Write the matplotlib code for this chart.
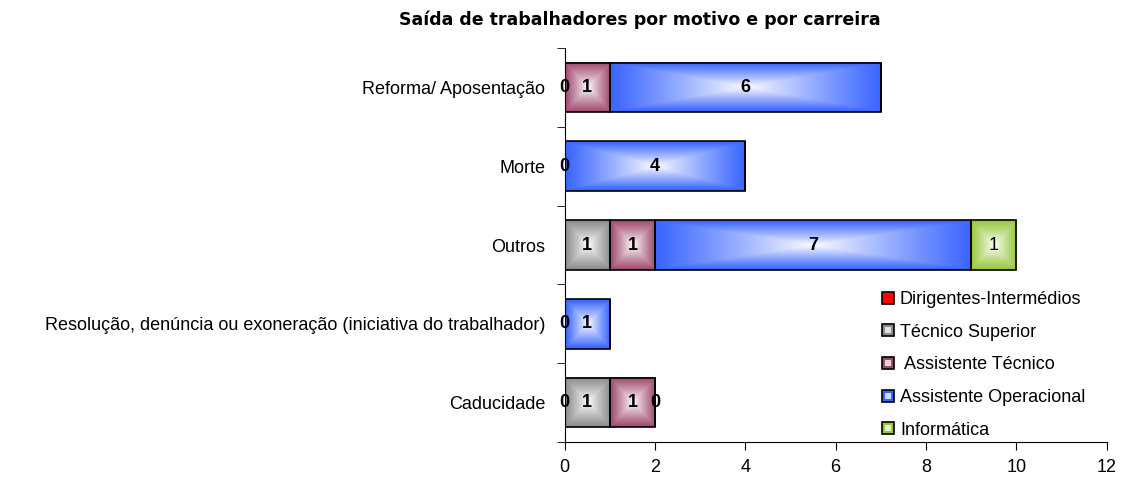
import numpy as np
import matplotlib
matplotlib.use("Agg")
import matplotlib.pyplot as plt
from matplotlib.colors import to_rgb
from matplotlib.patches import Rectangle
from matplotlib.legend_handler import HandlerBase

plt.rcParams["font.family"] = ["Liberation Sans", "DejaVu Sans"]

categories = [
    "Reforma/ Aposentação",
    "Morte",
    "Outros",
    "Resolução, denúncia ou exoneração (iniciativa do trabalhador)",
    "Caducidade",
]
series = ["Dirigentes-Intermédios", "Técnico Superior", " Assistente Técnico",
          "Assistente Operacional", "Informática"]
# None = no value in that cell (no label drawn)
dirigentes = [None, None, None, None, 0]
tec_superior = [0, None, 1, None, 1]
assist_tecnico = [1, 0, 1, 0, 1]
assist_operacional = [6, 4, 7, 1, 0]
informatica = [None, None, 1, None, None]
values = [dirigentes, tec_superior, assist_tecnico, assist_operacional, informatica]
colors = ["#FF0000", "#8C8C8C", "#A04A6E", "#3864FF", "#96C83C"]
bold_labels = [True, True, True, True, False]


def gradient_img(color, nx, ny, power=0.9):
    u = np.abs(np.linspace(-1, 1, nx))[None, :]
    v = np.abs(np.linspace(-1, 1, ny))[:, None]
    t = np.maximum(u, v) ** power
    c = np.array(to_rgb(color))
    img = 1.0 - (1.0 - c)[None, None, :] * t[:, :, None]
    return img


fig = plt.figure(figsize=(11.27, 4.8), dpi=100)
ax = fig.add_axes([0.501, 0.079, 0.481, 0.821])

ypos = np.arange(len(categories))
bar_h = 0.63
left = np.zeros(len(categories))
for vals, col, bold in zip(values, colors, bold_labels):
    w = np.array([0 if v is None else v for v in vals], dtype=float)
    bars = ax.barh(ypos, w, left=left, height=bar_h, facecolor="none",
                   edgecolor="black", linewidth=1.2, zorder=3)
    for b, v in zip(bars, vals):
        if v is None:
            continue
        x0, y0 = b.get_x(), b.get_y()
        bw, bh = b.get_width(), b.get_height()
        if bw > 0:
            img = gradient_img(col, max(int(bw * 40), 20), 30)
            ax.imshow(img, extent=(x0, x0 + bw, y0, y0 + bh), aspect="auto",
                      interpolation="bilinear", zorder=2)
        ax.text(x0 + bw / 2, y0 + bh / 2, str(v), ha="center", va="center",
                fontsize=13, fontweight="bold" if bold else "normal", zorder=4)
    left += w

ax.set_xlim(0, 12)
ax.set_ylim(len(categories) - 0.5, -0.5)
ax.set_xticks(range(0, 13, 2))
ax.set_yticks(ypos)
ax.set_yticklabels(categories)
ax.set_yticks(np.arange(-0.5, len(categories), 1), minor=True)
ax.tick_params(axis="y", which="major", length=0, pad=14, labelsize=13)
ax.tick_params(axis="y", which="minor", length=6, direction="out")
ax.tick_params(axis="x", length=6, direction="out", labelsize=13, pad=6)
ax.spines["top"].set_visible(False)
ax.spines["right"].set_visible(False)

fig.text(0.568, 0.958, "Saída de trabalhadores por motivo e por carreira",
         ha="center", va="center", fontsize=12.5, fontweight="bold",
         family="DejaVu Sans")


class GradHandler(HandlerBase):
    def __init__(self, color, solid=False):
        super().__init__()
        self.color = color
        self.solid = solid

    def create_artists(self, legend, orig_handle, xdescent, ydescent, width,
                       height, fontsize, trans):
        s = height * 1.0
        x = xdescent + 0
        y = -ydescent + (height - s) / 2
        outer = Rectangle((x, y), s, s, facecolor=self.color, edgecolor="black",
                          linewidth=1.2, transform=trans)
        arts = [outer]
        if not self.solid:
            c = np.array(to_rgb(self.color))
            inner = Rectangle((x + s * 0.25, y + s * 0.25), s * 0.5, s * 0.5,
                              facecolor=tuple(1 - (1 - c) * 0.25),
                              edgecolor="none", transform=trans)
            arts.append(inner)
        return arts


handles = [Rectangle((0, 0), 1, 1) for _ in series]
hmap = {h: GradHandler(c, solid=(i == 0)) for i, (h, c) in enumerate(zip(handles, colors))}
ax.legend(handles, series, handler_map=hmap, loc="lower left",
          bbox_to_anchor=(0.572, -0.01), frameon=False, fontsize=13,
          handlelength=0.65, handleheight=0.65, handletextpad=0.35,
          labelspacing=0.87, borderaxespad=0)

fig.savefig("out.png", dpi=100)
